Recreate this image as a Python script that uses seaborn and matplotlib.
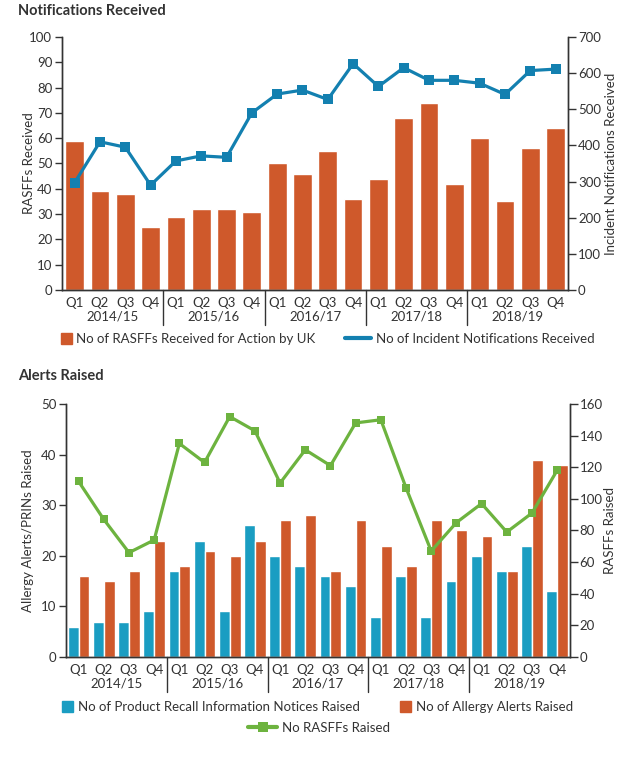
import numpy as np
import pandas as pd
import seaborn as sns
import matplotlib
matplotlib.use("Agg")
import matplotlib.pyplot as plt
from matplotlib.lines import Line2D
from matplotlib.patches import Rectangle
from matplotlib.legend_handler import HandlerPatch
import matplotlib.transforms as mtrans

years = ["2014/15", "2015/16", "2016/17", "2017/18", "2018/19"]
quarters = ["Q1", "Q2", "Q3", "Q4"]

rasffs_received = [59, 39, 38, 25, 29, 32, 32, 31, 50, 46, 55, 36,
                   44, 68, 74, 42, 60, 35, 56, 64]
incident_notifications = [297, 410, 395, 290, 357, 371, 367, 490, 542, 553, 527, 626,
                          563, 615, 580, 580, 572, 541, 607, 611]
prins_raised = [6, 7, 7, 9, 17, 23, 9, 26, 20, 18, 16, 14,
                8, 16, 8, 15, 20, 17, 22, 13]
allergy_alerts = [16, 15, 17, 23, 18, 21, 20, 23, 27, 28, 17, 27,
                  22, 18, 27, 25, 24, 17, 39, 38]
rasffs_raised = [111, 87, 66, 74, 135, 123, 152, 143, 110, 131, 121, 148,
                 150, 107, 67, 85, 97, 79, 91, 118]

ORANGE = "#CF592B"
BLUE = "#1380B0"
TEAL = "#1A9DC2"
GREEN = "#6DB33F"
TXT = "#333333"

sns.set_theme(style="white")
plt.rcParams["font.family"] = ["Lato", "DejaVu Sans"]
plt.rcParams["text.color"] = TXT
plt.rcParams["axes.labelcolor"] = TXT
plt.rcParams["xtick.color"] = TXT
plt.rcParams["ytick.color"] = TXT
plt.rcParams["axes.edgecolor"] = TXT

FS = 9.5

periods = [f"{y} {q}" for y in years for q in quarters]
qlabels = [q for y in years for q in quarters]
n = len(periods)
pos = np.arange(n)

fig = plt.figure(figsize=(6.36, 7.6), dpi=100)


def square_patch(legend, orig_handle, xdescent, ydescent, width, height, fontsize):
    s = 0.85 * fontsize
    x0 = width - xdescent - s
    y0 = -ydescent + (height - s) / 2.0
    return Rectangle((x0, y0), s, s)


SQ = {Rectangle: HandlerPatch(patch_func=square_patch)}


def decorate(ax, ax2, lx, rx):
    for a in (ax, ax2):
        a.spines["top"].set_visible(False)
        for s in a.spines.values():
            s.set_linewidth(1.0)
            s.set_color(TXT)
    ax.set_xlim(-0.5, n - 0.5)
    ax.set_xticks(pos)
    ax.set_xticklabels(qlabels, fontsize=FS)
    ax.tick_params(axis="x", which="major", length=0, pad=5)
    ax.set_xticks(np.arange(-0.5, n, 1), minor=True)
    ax.tick_params(axis="x", which="minor", length=4, width=1, direction="out", color=TXT)
    ax.tick_params(axis="y", length=5, width=1, direction="out", pad=2, labelsize=FS, left=True)
    ax2.tick_params(axis="y", length=6, width=1, direction="out", pad=1, labelsize=FS, right=True)
    trans = mtrans.blended_transform_factory(ax.transData, ax.transAxes)
    for i, y in enumerate(years):
        ax.annotate(y, xy=(4 * i + 1.5, 0), xycoords=trans, xytext=(0, -14.5),
                    textcoords="offset points", ha="center", va="top", fontsize=FS)
    for i in range(1, len(years)):
        ax.axvline(4 * i - 0.5, ymin=-0.14, ymax=0, color=TXT, lw=1, clip_on=False)
    ax.grid(False)
    ax2.grid(False)
    ax.yaxis.set_label_coords(lx, 0.5)
    ax2.yaxis.set_label_coords(rx, 0.5)


# ---------- Top chart ----------
ax1 = fig.add_axes([0.0975, 0.6184, 0.796, 0.333])
df1 = pd.DataFrame({"period": periods, "rasffs": rasffs_received})
sns.barplot(data=df1, x="period", y="rasffs", color=ORANGE, saturation=1,
            width=0.74, ax=ax1, order=periods)
ax1.set_ylim(0, 100)
ax1.set_yticks(np.arange(0, 101, 10))
ax1.set_ylabel("RASFFs Received", fontsize=FS)
ax1.set_xlabel("")
ax1b = ax1.twinx()
sns.lineplot(x=pos, y=incident_notifications, ax=ax1b, color=BLUE, lw=2.3,
             marker="s", markersize=7, markeredgewidth=0)
ax1b.set_ylim(0, 700)
ax1b.set_yticks(np.arange(0, 701, 100))
ax1b.set_ylabel("Incident Notifications Received", fontsize=FS)
decorate(ax1, ax1b, -0.053, 1.073)
fig.text(18 / 636, 1 - 11 / 760, "Notifications Received", fontsize=10.5,
         fontweight="bold", va="center", ha="left")

h1 = [Rectangle((0, 0), 1, 1, color=ORANGE),
      Line2D([], [], color=BLUE, lw=3)]
fig.legend(h1, ["No of RASFFs Received for Action by UK",
                "No of Incident Notifications Received"],
           loc="center", bbox_to_anchor=(0.503, 1 - 339 / 760), ncol=2, frameon=False,
           fontsize=FS, handlelength=2.0, handletextpad=0.35, columnspacing=2.2,
           handler_map=SQ)

# ---------- Bottom chart ----------
ax2 = fig.add_axes([0.1038, 0.1355, 0.792, 0.333])
df2 = pd.DataFrame({
    "period": periods * 2,
    "value": prins_raised + allergy_alerts,
    "series": ["No of Product Recall Information Notices Raised"] * n
              + ["No of Allergy Alerts Raised"] * n,
})
sns.barplot(data=df2, x="period", y="value", hue="series", order=periods,
            palette=[TEAL, ORANGE], saturation=1, width=0.86, gap=0, ax=ax2,
            legend=False)
ax2.set_ylim(0, 50)
ax2.set_yticks(np.arange(0, 51, 10))
ax2.set_ylabel("Allergy Alerts/PRINs Raised", fontsize=FS)
ax2.set_xlabel("")
ax2b = ax2.twinx()
sns.lineplot(x=pos, y=rasffs_raised, ax=ax2b, color=GREEN, lw=2.3,
             marker="s", markersize=6, markeredgewidth=0)
ax2b.set_ylim(0, 160)
ax2b.set_yticks(np.arange(0, 161, 20))
ax2b.set_ylabel("RASFFs Raised", fontsize=FS)
decorate(ax2, ax2b, -0.063, 1.069)
fig.text(18 / 636, 1 - 376 / 760, "Alerts Raised", fontsize=10.5,
         fontweight="bold", va="center", ha="left")

h2 = [Rectangle((0, 0), 1, 1, color=TEAL),
      Rectangle((0, 0), 1, 1, color=ORANGE)]
fig.legend(h2, ["No of Product Recall Information Notices Raised",
                "No of Allergy Alerts Raised"],
           loc="center", bbox_to_anchor=(0.499, 1 - 707 / 760), ncol=2, frameon=False,
           fontsize=FS, handlelength=0.9, handletextpad=0.35, columnspacing=3.0,
           handler_map=SQ)
h3 = [Line2D([], [], color=GREEN, lw=3, marker="s", markersize=7, markeredgewidth=0)]
fig.legend(h3, ["No RASFFs Raised"], loc="center",
           bbox_to_anchor=(0.502, 1 - 728 / 760), frameon=False, fontsize=FS,
           handlelength=2.2, handletextpad=0.4)

fig.savefig("out.png", dpi=100)
